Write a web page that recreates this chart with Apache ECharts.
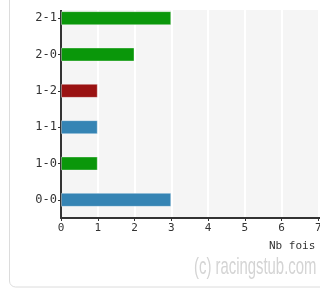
<!DOCTYPE html>
<html>
<head>
<meta charset="utf-8">
<script src="https://cdn.jsdelivr.net/npm/echarts@6/dist/echarts.min.js"></script>
<style>
  html, body { margin: 0; padding: 0; background: #fff; }
  #chart { width: 320px; height: 290px; }
</style>
</head>
<body>
<div id="chart"></div>
<script>
const scores = ["0-0", "1-0", "1-1", "1-2", "2-0", "2-1"];
const counts = [3, 1, 1, 1, 2, 3];
// V = victoire, N = nul, D = défaite
const results = ["N", "V", "N", "D", "V", "V"];
const xTicks = [0, 1, 2, 3, 4, 5, 6, 7, 8];

const resultColors = { V: "#0a970a", N: "#3584b4", D: "#9a1212" };

const myChart = echarts.init(document.getElementById("chart"));

myChart.setOption({
  animation: false,
  textStyle: { fontFamily: "DejaVu Sans Mono" },
  grid: {
    left: 61,
    width: 294,
    top: 0,
    bottom: 72,
    containLabel: false,
    outerBoundsMode: "none",
    show: true,
    backgroundColor: "#f5f5f5",
    borderWidth: 0,
  },
  xAxis: {
    type: "value",
    min: xTicks[0],
    max: xTicks[xTicks.length - 1],
    interval: 1,
    axisLine: { show: true, lineStyle: { color: "#333", width: 2 } },
    axisTick: { show: true, length: 3, lineStyle: { color: "#333" } },
    axisLabel: { color: "#333", fontSize: 11, margin: 5 },
    splitLine: { show: true, lineStyle: { color: "#fff", width: 2 } },
  },
  yAxis: {
    type: "category",
    data: scores,
    axisLine: { show: true, lineStyle: { color: "#333", width: 2 } },
    axisTick: { show: true, alignWithLabel: true, length: 3, lineStyle: { color: "#333" } },
    axisLabel: { color: "#333", fontSize: 12, margin: 4 },
    splitLine: { show: false },
  },
  series: [
    {
      type: "bar",
      barWidth: 14,
      data: counts.map((v, i) => ({
        value: v,
        itemStyle: {
          color: resultColors[results[i]],
          borderColor: "rgba(255,255,255,0.35)",
          borderWidth: 1,
        },
      })),
    },
  ],
  graphic: [
    // bandeau blanc du haut (zone coupée)
    { type: "rect", left: 0, top: 0, shape: { width: 320, height: 10 }, style: { fill: "#fff" }, z: 100 },
    // bordure du panneau à gauche
    {
      type: "rect",
      position: [9.5, -20],
      shape: { x: 0, y: 0, width: 400, height: 307, r: 6 },
      style: { fill: "none", stroke: "#dcdcdc", lineWidth: 1 },
      z: 101,
    },
    {
      type: "text",
      position: [269, 241],
      style: { text: "Nb fois", fill: "#333", font: "11px DejaVu Sans Mono" },
      z: 102,
    },
    {
      type: "text",
      position: [194, 255],
      scaleX: 0.62,
      style: {
        text: "(c) racingstub.com",
        fill: "#d4d4d4",
        font: "24px 'Liberation Sans', sans-serif",
      },
      z: 102,
    },
  ],
});
</script>
</body>
</html>
